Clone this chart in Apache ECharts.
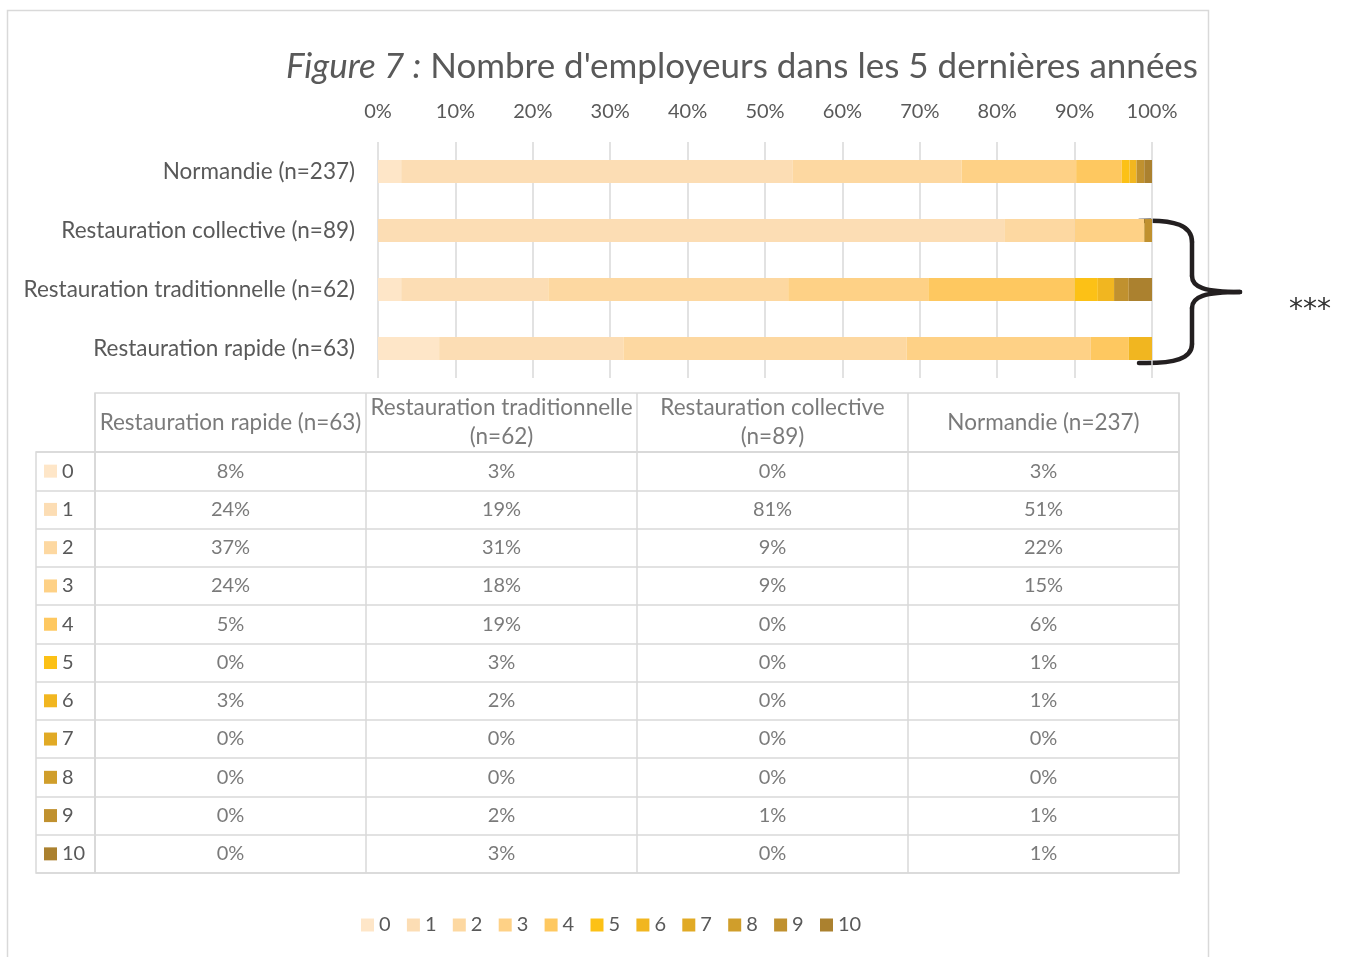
<!DOCTYPE html>
<html>
<head>
<meta charset="utf-8">
<title>Figure 7</title>
<script src="https://cdn.jsdelivr.net/npm/echarts@6/dist/echarts.min.js"></script>
<style>
  html, body { margin: 0; padding: 0; background: #fff; }
  #chart { width: 1345px; height: 957px; }
</style>
</head>
<body>
<div id="chart"></div>
<script>
// categories, bottom to top on the bar chart = left to right in the table
const groups = [
  'Restauration rapide (n=63)',
  'Restauration traditionnelle (n=62)',
  'Restauration collective (n=89)',
  'Normandie (n=237)'
]
const ranks = ['0', '1', '2', '3', '4', '5', '6', '7', '8', '9', '10']
const ticks = [0, 10, 20, 30, 40, 50, 60, 70, 80, 90, 100]

// share (%) of each number of employers, per group
const rank0 = [7.9, 3.0, 0, 3.0]
const rank1 = [23.8, 19.0, 81.0, 50.6]
const rank2 = [36.6, 31.0, 9.0, 21.8]
const rank3 = [23.8, 18.1, 9.0, 14.8]
const rank4 = [4.9, 18.9, 0, 5.9]
const rank5 = [0, 3.0, 0, 1.0]
const rank6 = [3.0, 2.1, 0, 0.9]
const rank7 = [0, 0, 0, 0]
const rank8 = [0, 0, 0, 0]
const rank9 = [0, 1.9, 1.0, 1.0]
const rank10 = [0, 3.0, 0, 1.0]
const shares = [rank0, rank1, rank2, rank3, rank4, rank5, rank6, rank7, rank8, rank9, rank10]

const colors = [
  '#fee6c8', '#fcddb4', '#fdd8a1', '#fed186', '#fec860', '#fcc116',
  '#f1b620', '#e1aa25', '#d09e2b', '#c0912f', '#ab812f'
]

const font = 'Lato'
const grey = '#595959'
const lineGrey = '#d9d9d9'
const textSize = 22.5   // words
const numSize = 20      // numbers

const chart = echarts.init(document.getElementById('chart'))

const barSeries = ranks.map((r, i) => ({
  name: r,
  type: 'bar',
  stack: 'total',
  xAxisIndex: 0,
  yAxisIndex: 0,
  barWidth: 23,
  itemStyle: { color: colors[i] },
  data: shares[i]
}))

const cellData = []
shares.forEach((row, i) => {
  row.forEach((v, j) => cellData.push([j, i, v]))
})

const headerText = (name) => name.length > 27 ? name.replace(' (n=', '\n(n=') : name

const keyRich = { t: { fontFamily: font, fontSize: numSize, color: grey, padding: [0, 0, 0, 5] } }
colors.forEach((c, i) => {
  keyRich['s' + i] = { width: 13, height: 13, backgroundColor: c }
})

const hiddenLabel = { show: false }
const noLine = { show: false }
const braceStyle = { fill: 'none', stroke: '#231f20', lineWidth: 4.5, lineCap: 'round' }

const option = {
  animation: false,
  textStyle: { fontFamily: font },
  title: {
    text: '{i|Figure 7 :} Nombre d\'employeurs dans les 5 dernières années',
    right: 142,
    top: 44,
    textStyle: {
      fontFamily: font,
      fontSize: 35,
      fontWeight: 'normal',
      color: grey,
      rich: {
        i: { fontFamily: font, fontSize: 35, fontStyle: 'italic', color: grey }
      }
    }
  },
  legend: {
    data: ranks,
    left: 356,
    top: 910,
    icon: 'rect',
    itemWidth: 13,
    itemHeight: 13,
    itemGap: 16.3,
    selectedMode: false,
    textStyle: { fontFamily: font, fontSize: numSize, color: grey }
  },
  grid: [
    { left: 378, width: 774, top: 142, height: 236 },
    { left: 95, width: 1084, top: 393, height: 59, show: true, borderColor: lineGrey, borderWidth: 1.5 },
    { left: 95, width: 1084, top: 452, height: 421, show: true, borderColor: lineGrey, borderWidth: 1.5 },
    { left: 36, width: 59, top: 452, height: 421, show: true, borderColor: lineGrey, borderWidth: 1.5 }
  ],
  xAxis: [
    {
      gridIndex: 0,
      type: 'value',
      position: 'top',
      min: 0,
      max: 100,
      interval: 10,
      axisLine: noLine,
      axisTick: noLine,
      splitLine: { show: true, lineStyle: { color: lineGrey, width: 1.5 } },
      axisLabel: {
        margin: 20,
        fontFamily: font,
        fontSize: numSize,
        color: grey,
        formatter: (v) => ticks.includes(v) ? v + '%' : ''
      }
    },
    {
      gridIndex: 1,
      type: 'category',
      data: groups,
      axisLine: noLine,
      axisTick: noLine,
      axisLabel: { show: false, interval: 0 },
      splitLine: { show: true, interval: 0, lineStyle: { color: lineGrey, width: 1.5 } }
    },
    {
      gridIndex: 2,
      type: 'category',
      data: groups,
      axisLine: noLine,
      axisTick: noLine,
      axisLabel: { show: false, interval: 0 },
      splitLine: { show: true, interval: 0, lineStyle: { color: lineGrey, width: 1.5 } }
    },
    {
      gridIndex: 3,
      type: 'category',
      data: [''],
      axisLine: noLine,
      axisTick: noLine,
      axisLabel: hiddenLabel
    }
  ],
  yAxis: [
    {
      gridIndex: 0,
      type: 'category',
      data: groups,
      axisLine: noLine,
      axisTick: noLine,
      axisLabel: { margin: 23, fontFamily: font, fontSize: textSize, color: grey }
    },
    {
      gridIndex: 1,
      type: 'category',
      data: [''],
      axisLine: noLine,
      axisTick: noLine,
      axisLabel: hiddenLabel
    },
    {
      gridIndex: 2,
      type: 'category',
      data: ranks,
      inverse: true,
      axisLine: noLine,
      axisTick: noLine,
      axisLabel: { show: false, interval: 0 },
      splitLine: { show: true, interval: 0, lineStyle: { color: lineGrey, width: 1.5 } }
    },
    {
      gridIndex: 3,
      type: 'category',
      data: ranks,
      inverse: true,
      axisLine: noLine,
      axisTick: noLine,
      axisLabel: {
        inside: true,
        interval: 0,
        margin: 8,
        formatter: (v, i) => `{s${i}|}{t|${v}}`,
        rich: keyRich
      },
      splitLine: { show: true, interval: 0, lineStyle: { color: lineGrey, width: 1.5 } }
    }
  ],
  series: [
    ...barSeries,
    {
      name: 'header',
      type: 'scatter',
      xAxisIndex: 1,
      yAxisIndex: 1,
      symbolSize: 1,
      itemStyle: { color: 'rgba(0,0,0,0)' },
      silent: true,
      label: {
        show: true,
        position: 'inside',
        fontFamily: font,
        fontSize: textSize,
        lineHeight: 29,
        color: grey,
        formatter: (p) => headerText(groups[p.value[0]])
      },
      data: groups.map((g, j) => [j, 0])
    },
    {
      name: 'cells',
      type: 'scatter',
      xAxisIndex: 2,
      yAxisIndex: 2,
      symbolSize: 1,
      itemStyle: { color: 'rgba(0,0,0,0)' },
      silent: true,
      label: {
        show: true,
        position: 'inside',
        fontFamily: font,
        fontSize: numSize,
        color: grey,
        formatter: (p) => Math.round(p.value[2]) + '%'
      },
      data: cellData
    }
  ],
  graphic: [
    {
      type: 'rect',
      silent: true,
      z: -10,
      shape: { x: 7.5, y: 10.5, width: 1201, height: 980 },
      style: { fill: 'none', stroke: lineGrey, lineWidth: 1.5 }
    },
    // brace grouping the three restaurant categories
    {
      type: 'bezierCurve',
      silent: true,
      shape: { x1: 1139, y1: 221, cpx1: 1176, cpy1: 219, cpx2: 1192, cpy2: 226, x2: 1192, y2: 242 },
      style: braceStyle
    },
    {
      type: 'line',
      silent: true,
      shape: { x1: 1192, y1: 242, x2: 1192, y2: 276 },
      style: braceStyle
    },
    {
      type: 'bezierCurve',
      silent: true,
      shape: { x1: 1192, y1: 276, cpx1: 1192, cpy1: 287, cpx2: 1204, cpy2: 292, x2: 1240, y2: 292 },
      style: braceStyle
    },
    {
      type: 'bezierCurve',
      silent: true,
      shape: { x1: 1240, y1: 292, cpx1: 1204, cpy1: 292, cpx2: 1192, cpy2: 297, x2: 1192, y2: 308 },
      style: braceStyle
    },
    {
      type: 'line',
      silent: true,
      shape: { x1: 1192, y1: 308, x2: 1192, y2: 344 },
      style: braceStyle
    },
    {
      type: 'bezierCurve',
      silent: true,
      shape: { x1: 1192, y1: 344, cpx1: 1192, cpy1: 358, cpx2: 1176, cpy2: 364, x2: 1139, y2: 363 },
      style: braceStyle
    },
    {
      type: 'text',
      silent: true,
      left: 1289,
      top: 297,
      style: { text: '***', fontFamily: 'DejaVu Sans', fontSize: 28, fill: '#333' }
    }
  ]
}

chart.setOption(option)
</script>
</body>
</html>
